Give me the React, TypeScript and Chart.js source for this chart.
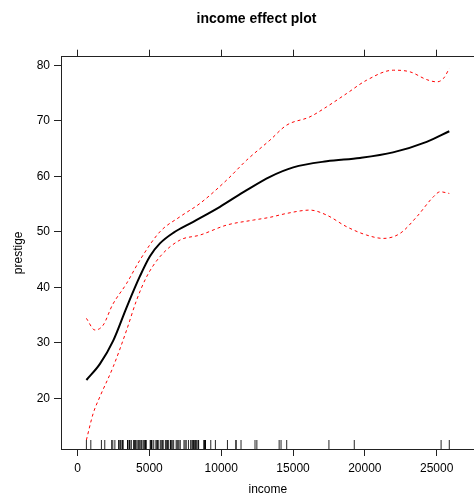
import React, { useEffect, useRef } from "react";
import { Chart, registerables } from "chart.js";

Chart.register(...registerables);

// Fitted effect (income -> prestige)
const fitIncome = [611, 1553, 2479, 3412, 4338, 5035, 5731, 6658, 8050, 9910, 11769, 13391, 15014, 17340, 19659, 21958, 24304, 25879];
const fitPrestige = [23.3, 26.2, 30.4, 36.4, 42.0, 45.6, 47.9, 49.8, 51.8, 54.5, 57.5, 59.9, 61.6, 62.7, 63.3, 64.3, 66.2, 68.1];

// Upper confidence band
const upperIncome = [611, 1205, 1783, 2420, 3412, 4338, 5731, 7124, 8517, 10376, 11769, 13391, 14554, 16176, 17340, 18734, 20127, 21986, 23148, 24310, 25006, 25470, 25879];
const upperPrestige = [34.4, 32.3, 33.2, 36.8, 40.7, 44.9, 50.0, 52.7, 55.1, 59.3, 62.9, 66.5, 69.2, 70.7, 72.5, 74.9, 77.3, 79.1, 78.8, 77.4, 77.0, 77.6, 79.4];

// Lower confidence band
const lowerIncome = [611, 1086, 1553, 2479, 3412, 4109, 4805, 5731, 7124, 8517, 10376, 12234, 13391, 14554, 16176, 17340, 18734, 20127, 21289, 22451, 23613, 24774, 25239, 25879];
const lowerPrestige = [12.5, 17.3, 20.3, 25.7, 32.3, 37.7, 41.9, 45.5, 48.5, 49.4, 51.2, 52.1, 52.6, 53.3, 53.9, 53.0, 50.9, 49.4, 48.8, 49.7, 52.7, 56.3, 57.2, 56.9];

// Observed incomes (rug)
const rugIncome = [
  12351, 25879, 9271, 8865, 8403, 11030, 8258, 14163, 11377, 11023, 5902, 7059, 8425, 8049, 7405, 6336,
  19263, 6112, 9593, 4686, 12480, 5648, 8034, 25308, 14558, 17498, 4614, 3485, 5092, 10432, 5180, 6197,
  7562, 8206, 4036, 3148, 4348, 2448, 4330, 4761, 3016, 2901, 5511, 3739, 3161, 4741, 5052, 6259, 4075,
  7482, 8780, 2594, 918, 2370, 8131, 6992, 7956, 8895, 8891, 3116, 3930, 7869, 611, 3000, 3472, 3582,
  3643, 1656, 6860, 4199, 5134, 5134, 1890, 4443, 3485, 8043, 6686, 6565, 6477, 5811, 6573, 3942, 5449,
  2847, 5795, 7716, 4696, 8316, 7147, 8880, 5299, 5959, 4549, 6928, 3910, 14032, 8845, 5562, 4224, 4753,
  6462, 3617,
];

const xTicks = [0, 5000, 10000, 15000, 20000, 25000];
const yTicks = [20, 30, 40, 50, 60, 70, 80];

const X_MIN = -1158;
const X_MAX = 27648;
const Y_MIN = 10.87;
const Y_MAX = 81.53;

const FONT = "'Liberation Sans', Arial, Helvetica, sans-serif";
const AXIS_COLOR = "#222";

const toPoints = (xs: number[], ys: number[]) => xs.map((x, i) => ({ x, y: ys[i] }));

const rugPlugin = {
  id: "rug",
  afterDatasetsDraw(chart: any) {
    const ctx = chart.ctx;
    const xs = chart.scales.x;
    const bottom = chart.chartArea.bottom;
    ctx.save();
    ctx.strokeStyle = "rgba(0,0,0,0.85)";
    ctx.lineWidth = 1;
    rugIncome.forEach((v) => {
      const px = xs.getPixelForValue(v);
      ctx.beginPath();
      ctx.moveTo(px, bottom);
      ctx.lineTo(px, bottom - 9);
      ctx.stroke();
    });
    ctx.restore();
  },
};

export default function App() {
  const ref = useRef<HTMLCanvasElement | null>(null);

  useEffect(() => {
    if (!ref.current) return;
    const setTicks = (vals: number[]) => (scale: any) => {
      scale.ticks = vals.map((v) => ({ value: v }));
    };
    const chart = new Chart(ref.current, {
      type: "line",
      data: {
        datasets: [
          {
            label: "upper",
            data: toPoints(upperIncome, upperPrestige),
            borderColor: "#ff0000",
            borderWidth: 1,
            borderDash: [3, 3],
            pointRadius: 0,
            cubicInterpolationMode: "monotone",
            fill: false,
          },
          {
            label: "lower",
            data: toPoints(lowerIncome, lowerPrestige),
            borderColor: "#ff0000",
            borderWidth: 1,
            borderDash: [3, 3],
            pointRadius: 0,
            cubicInterpolationMode: "monotone",
            fill: false,
          },
          {
            label: "fit",
            data: toPoints(fitIncome, fitPrestige),
            borderColor: "#000000",
            borderWidth: 2,
            pointRadius: 0,
            cubicInterpolationMode: "monotone",
            fill: false,
          },
        ],
      },
      options: {
        animation: false,
        responsive: false,
        events: [],
        layout: { padding: 0 },
        plugins: {
          legend: { display: false },
          tooltip: { enabled: false },
          title: {
            display: true,
            text: "income effect plot",
            color: "#000",
            font: { family: FONT, size: 14, weight: "bold" },
            padding: { top: 11, bottom: 0 },
          },
        },
        scales: {
          x: {
            type: "linear",
            position: "bottom",
            min: X_MIN,
            max: X_MAX,
            afterBuildTicks: setTicks(xTicks),
            afterFit: (s: any) => { s.height = 48; },
            grid: { drawOnChartArea: false, drawTicks: true, tickLength: 7, color: AXIS_COLOR },
            border: { display: true, color: AXIS_COLOR, width: 1 },
            ticks: { color: "#000", font: { family: FONT, size: 12 }, padding: 5, maxRotation: 0, autoSkip: false, callback: (v: any) => String(v) },
            title: { display: true, text: "income", color: "#000", font: { family: FONT, size: 12 }, padding: { top: 0, bottom: 0 } },
          },
          x2: {
            type: "linear",
            position: "top",
            min: X_MIN,
            max: X_MAX,
            afterBuildTicks: setTicks(xTicks),
            afterFit: (s: any) => { s.height = 28.9; },
            grid: { drawOnChartArea: false, drawTicks: true, tickLength: 7, color: AXIS_COLOR },
            border: { display: true, color: AXIS_COLOR, width: 1 },
            ticks: { display: false },
          },
          y: {
            type: "linear",
            position: "left",
            min: Y_MIN,
            max: Y_MAX,
            afterBuildTicks: setTicks(yTicks),
            afterFit: (s: any) => { s.width = 61; },
            grid: { drawOnChartArea: false, drawTicks: true, tickLength: 7, color: AXIS_COLOR },
            border: { display: true, color: AXIS_COLOR, width: 1 },
            ticks: { color: "#000", font: { family: FONT, size: 12 }, padding: 4, autoSkip: false },
            title: { display: true, text: "prestige", color: "#000", font: { family: FONT, size: 12 }, padding: { top: 11, bottom: 0 } },
          },
          y2: {
            type: "linear",
            position: "right",
            min: Y_MIN,
            max: Y_MAX,
            afterBuildTicks: setTicks(yTicks),
            afterFit: (s: any) => { s.width = 38.3; },
            grid: { drawOnChartArea: false, drawTicks: true, tickLength: 7, color: AXIS_COLOR },
            border: { display: true, color: AXIS_COLOR, width: 1 },
            ticks: { display: false },
          },
        },
      } as any,
      plugins: [rugPlugin],
    });
    return () => chart.destroy();
  }, []);

  return (
    <div
      style={{
        position: "fixed",
        left: 0,
        top: 0,
        width: 474,
        height: 497,
        overflow: "hidden",
        background: "#fff",
      }}
    >
      <canvas ref={ref} width={513} height={497} style={{ width: 513, height: 497, display: "block" }} />
    </div>
  );
}
